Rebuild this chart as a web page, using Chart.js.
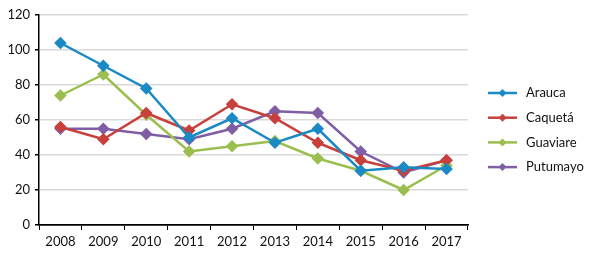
<!DOCTYPE html>
<html>
<head>
<meta charset="utf-8">
<script src="https://cdn.jsdelivr.net/npm/chart.js@4"></script>
<style>
  html, body { margin: 0; padding: 0; background: #fff; }
  #wrap { width: 589px; height: 259px; position: relative; }
</style>
</head>
<body>
<div id="wrap"><canvas id="depts"></canvas></div>
<script>
const years = ["2008", "2009", "2010", "2011", "2012", "2013", "2014", "2015", "2016", "2017"];
const arauca = [104, 91, 78, 50, 61, 47, 55, 31, 33, 32];
const caqueta = [56, 49, 64, 54, 69, 61, 47, 37, 31, 37];
const guaviare = [74, 86, 63, 42, 45, 48, 38, 31, 20, 34];
const putumayo = [55, 55, 52, 49, 55, 65, 64, 42, 30, 37];
const seriesNames = ["Arauca", "Caquetá", "Guaviare", "Putumayo"];
const seriesColors = ["#1b8ac4", "#c7403c", "#9bbf4f", "#7f5ea6"];
const yTicks = [0, 20, 40, 60, 80, 100, 120];

const FONT = "Lato, 'Open Sans', sans-serif";

function makeSet(i, values) {
  return {
    label: seriesNames[i],
    data: values,
    borderColor: seriesColors[i],
    backgroundColor: seriesColors[i],
    borderWidth: 2.5,
    pointStyle: "rectRot",
    pointRadius: 4.5,
    pointHoverRadius: 4.5,
    tension: 0,
  };
}

// legend on the right: short line with a diamond, then the name
const sideLegend = {
  id: "sideLegend",
  afterDraw(chart) {
    const ctx = chart.ctx;
    const x0 = 488;
    const y0 = 93;
    const step = 24.7;
    ctx.save();
    chart.data.datasets.forEach((ds, i) => {
      const y = y0 + i * step;
      ctx.strokeStyle = ds.borderColor;
      ctx.lineWidth = 2.5;
      ctx.beginPath();
      ctx.moveTo(x0, y);
      ctx.lineTo(x0 + 29, y);
      ctx.stroke();
      ctx.fillStyle = ds.borderColor;
      ctx.beginPath();
      ctx.moveTo(x0 + 14.5, y - 4);
      ctx.lineTo(x0 + 18.5, y);
      ctx.lineTo(x0 + 14.5, y + 4);
      ctx.lineTo(x0 + 10.5, y);
      ctx.closePath();
      ctx.fill();
      ctx.fillStyle = "#111";
      ctx.font = "13px " + FONT;
      ctx.textBaseline = "middle";
      ctx.fillText(ds.label, x0 + 38, y);
    });
    ctx.restore();
  },
};

const config_depts = {
  type: "line",
  data: {
    labels: years,
    datasets: [
      makeSet(0, arauca),
      makeSet(1, caqueta),
      makeSet(2, guaviare),
      makeSet(3, putumayo),
    ],
  },
  options: {
    responsive: true,
    maintainAspectRatio: false,
    animation: false,
    layout: { padding: { left: 0, right: 121, top: 15, bottom: 0 } },
    scales: {
      x: {
        offset: true,
        grid: {
          offset: true,
          drawOnChartArea: false,
          drawTicks: true,
          tickLength: 5,
          tickColor: "#000",
        },
        border: { color: "#000", width: 1.5 },
        ticks: { color: "#111", font: { family: FONT, size: 13 }, padding: 4, maxRotation: 0 },
        afterFit(scale) { scale.height = 34; },
      },
      y: {
        min: 0,
        max: 120,
        afterBuildTicks(scale) { scale.ticks = yTicks.map((v) => ({ value: v })); },
        grid: {
          color: (c) => (c.tick && c.tick.value === 0 ? "#000" : "#d9d9d9"),
          lineWidth: 1.5,
          drawTicks: true,
          tickLength: 4,
          tickColor: "#000",
        },
        border: { color: "#000", width: 1.5 },
        ticks: { color: "#111", font: { family: FONT, size: 13 }, padding: 5 },
        afterFit(scale) { scale.width = 39; },
      },
    },
    plugins: {
      legend: { display: false },
      tooltip: { enabled: false },
    },
  },
  plugins: [sideLegend],
};

const depts = new Chart(document.getElementById("depts"), config_depts);
</script>
</body>
</html>
